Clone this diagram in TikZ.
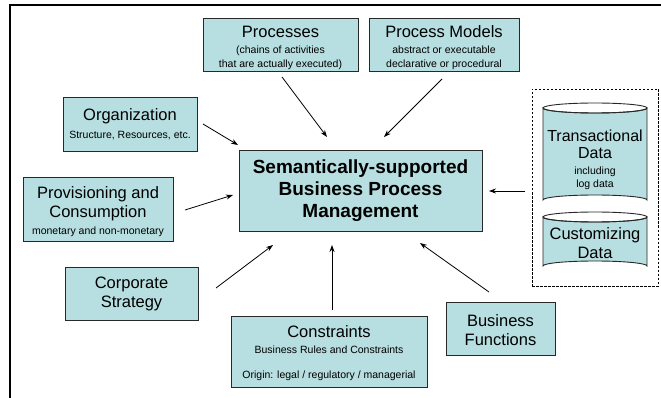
\documentclass[tikz,border=0pt]{standalone}
\usepackage{fontspec}
\setmainfont{Liberation Sans}
\usetikzlibrary{arrows.meta}
\definecolor{boxfill}{RGB}{183,222,224}
\definecolor{boxline}{RGB}{40,40,40}
\newcommand{\bigf}{\fontsize{16.5}{19}\selectfont}
\newcommand{\midf}{\fontsize{16}{17.5}\selectfont}
\newcommand{\smallf}{\fontsize{10.5}{13.5}\selectfont}
\newcommand{\cenf}{\fontsize{19}{22}\selectfont\bfseries}
\newcommand{\pushdown}[1]{\rule{0pt}{#1}}
\begin{document}
\begin{tikzpicture}[x=1pt,y=-1pt,
  box/.style={draw=boxline, fill=boxfill, line width=0.9pt, align=center, inner sep=0pt},
  arr/.style={draw=black, line width=0.8pt, -{Stealth[length=7pt,width=5pt]}},
  frame/.style={draw=black, line width=2.2pt},
  grp/.style={draw=black, line width=0.8pt, dash pattern=on 2.5pt off 1.5pt},
  cyl/.style={draw=boxline, fill=boxfill, line width=0.9pt}]
\useasboundingbox (0,0) rectangle (661,398);
\draw[frame] (10,398) -- (10,5) -- (661,5);

% boxes
\node[box, minimum width=155, minimum height=53, font=\smallf] (proc) at (280.5,44.5)
  {\pushdown{18pt}\bigf Processes\\[2.5pt](chains of activities\\that are actually executed)};
\node[box, minimum width=150, minimum height=53, font=\smallf] (models) at (444,44.5)
  {\pushdown{18pt}\bigf Process Models\\[2.5pt]abstract or executable\\declarative or procedural};
\node[box, minimum width=134, minimum height=54, font=\smallf] (org) at (130,124)
  {\bigf Organization\\[4pt]Structure, Resources, etc.};
\node[box, minimum width=150, minimum height=64, font=\bigf] (prov) at (98,209)
  {\pushdown{17pt}Provisioning and\\Consumption\\[-2pt]\smallf monetary and non-monetary};
\node[box, minimum width=133, minimum height=53, font=\bigf] (corp) at (131.5,293.5)
  {Corporate\\Strategy};
\node[box, minimum width=196, minimum height=71, font=\smallf] (cons) at (329,351.5)
  {\pushdown{16pt}\bigf Constraints\\[2.5pt]Business Rules and Constraints\\[11.5pt]Origin: legal / regulatory / managerial};
\node[box, minimum width=109, minimum height=53, font=\bigf] (bf) at (500.5,328.5)
  {\pushdown{15pt}Business\\Functions};
\node[box, minimum width=243, minimum height=81, font=\cenf] (bpm) at (360.5,190.5)
  {Semantically-supported\\Business Process\\Management};

% data group
\node[grp, minimum width=126, minimum height=197, inner sep=0pt] (grp) at (595,187.5) {};
\path[cyl]
  (543,108) -- (543,200) arc[start angle=180, end angle=360, x radius=52, y radius=5]
  -- (647,108) arc[start angle=0, end angle=180, x radius=52, y radius=5] -- cycle;
\draw[boxline, line width=0.9pt] (595,108) ellipse[x radius=52, y radius=5];
\path[cyl]
  (543,217) -- (543,266) arc[start angle=180, end angle=360, x radius=52, y radius=5]
  -- (647,217) arc[start angle=0, end angle=180, x radius=52, y radius=5] -- cycle;
\draw[boxline, line width=0.9pt] (595,217) ellipse[x radius=52, y radius=5];
\node[align=center, font=\midf, inner sep=0pt] (trans) at (595,160)
  {Transactional\\Data\\[-1.5pt]\smallf including\\[-4.5pt]\smallf log data};
\node[align=center, font=\bigf, inner sep=0pt] (cust) at (595,243.5) {Customizing\\Data};

% arrow ends
\coordinate (a1s) at (282,77);  \coordinate (a1e) at (327,137);
\coordinate (a2s) at (442,79);  \coordinate (a2e) at (384,137);
\coordinate (a3s) at (203,124); \coordinate (a3e) at (238,145);
\coordinate (a4s) at (185,210); \coordinate (a4e) at (233,195);
\coordinate (a5s) at (216,288); \coordinate (a5e) at (273,245);
\coordinate (a6s) at (332,310); \coordinate (a6e) at (332,245);
\coordinate (a7s) at (489,292); \coordinate (a7e) at (420,243);
\coordinate (a8s) at (525,191); \coordinate (a8e) at (489,191);
\draw[arr] (a1s) -- (a1e);
\draw[arr] (a2s) -- (a2e);
\draw[arr] (a3s) -- (a3e);
\draw[arr] (a4s) -- (a4e);
\draw[arr] (a5s) -- (a5e);
\draw[arr] (a6s) -- (a6e);
\draw[arr] (a7s) -- (a7e);
\draw[arr] (a8s) -- (a8e);
\end{tikzpicture}
\end{document}
